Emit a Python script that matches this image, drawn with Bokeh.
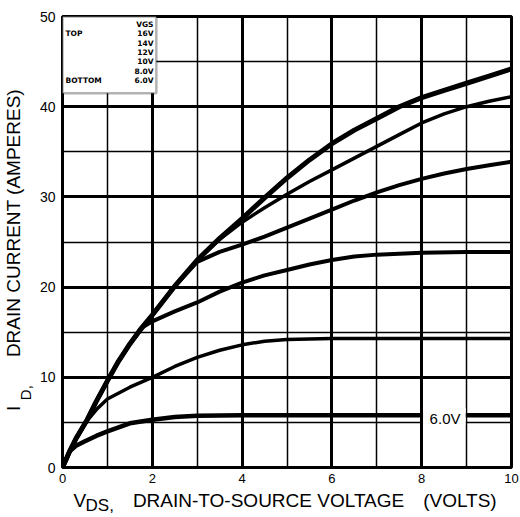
import math
from bokeh.plotting import figure
from bokeh.models import Label, BoxAnnotation, FixedTicker, LinearAxis
from bokeh.embed import file_html
from bokeh.resources import INLINE

# ---------------- data ----------------
vds_16 = [0, 0.15, 0.3, 0.55, 0.75, 1.0, 1.25, 1.5, 1.75, 2.0, 2.5, 3.0, 3.5, 4.0,
          4.5, 5.0, 5.5, 6.0, 6.5, 7.0, 7.5, 8.0, 8.5, 9.0, 9.5, 10.0]
id_16 = [0, 1.7, 3.2, 5.3, 7.3, 9.6, 11.8, 13.7, 15.4, 16.9, 20.1, 23.0, 25.4, 27.6,
         29.9, 32.1, 34.1, 35.9, 37.4, 38.7, 40.0, 41.0, 41.8, 42.6, 43.4, 44.2]

vds_14 = [0, 0.15, 0.3, 0.55, 0.75, 1.0, 1.25, 1.5, 1.75, 2.0, 2.5, 3.0, 3.5, 4.0,
          4.5, 5.0, 5.5, 6.0, 6.5, 7.0, 7.5, 8.0, 8.5, 9.0, 9.5, 10.0]
id_14 = [0, 1.7, 3.2, 5.3, 7.3, 9.6, 11.8, 13.7, 15.4, 16.9, 20.1, 23.0, 25.3, 27.2,
         28.8, 30.3, 31.7, 33.0, 34.3, 35.6, 36.9, 38.2, 39.2, 40.0, 40.6, 41.1]

vds_12 = [0, 0.15, 0.3, 0.55, 0.75, 1.0, 1.25, 1.5, 1.75, 2.0, 2.5, 3.0, 3.5, 4.0,
          4.5, 5.0, 5.5, 6.0, 6.5, 7.0, 7.5, 8.0, 8.5, 9.0, 9.5, 10.0]
id_12 = [0, 1.7, 3.2, 5.3, 7.3, 9.6, 11.8, 13.7, 15.4, 16.9, 20.1, 22.8, 23.9, 24.7,
         25.6, 26.6, 27.6, 28.6, 29.6, 30.5, 31.3, 32.0, 32.6, 33.1, 33.5, 33.9]

vds_10 = [0, 0.15, 0.3, 0.55, 0.75, 1.0, 1.25, 1.5, 1.8, 2.0, 2.5, 3.0, 3.5, 4.0,
          4.5, 5.0, 5.5, 6.0, 6.5, 7.0, 8.0, 9.0, 10.0]
id_10 = [0, 1.7, 3.2, 5.3, 7.3, 9.6, 11.8, 13.7, 15.6, 16.2, 17.3, 18.3, 19.5, 20.5,
         21.3, 21.9, 22.5, 23.0, 23.4, 23.6, 23.8, 23.9, 23.9]

vds_8 = [0, 0.15, 0.3, 0.55, 0.75, 1.0, 1.5, 2.0, 2.5, 3.0, 3.5, 4.0, 4.5, 5.0,
         6.0, 7.0, 8.0, 9.0, 10.0]
id_8 = [0, 1.7, 3.2, 5.2, 6.4, 7.6, 8.9, 10.0, 11.2, 12.2, 13.0, 13.6, 14.0, 14.2,
        14.3, 14.3, 14.3, 14.3, 14.3]

vds_6 = [0, 0.1, 0.16, 0.3, 0.5, 0.75, 1.0, 1.5, 2.0, 2.5, 3.0, 4.0, 5.0, 6.0,
         7.0, 8.0, 9.0, 10.0]
id_6 = [0, 1.1, 1.8, 2.4, 2.9, 3.5, 4.0, 4.9, 5.3, 5.6, 5.75, 5.8, 5.8, 5.8,
        5.8, 5.8, 5.8, 5.8]

x_ticks = [0, 2, 4, 6, 8, 10]
x_minor = [1, 3, 5, 7, 9]
y_ticks = [0, 10, 20, 30, 40, 50]
y_minor = [5, 15, 25, 35, 45]

legend_header = "VGS"
legend_values = ["16V", "14V", "12V", "10V", "8.0V", "6.0V"]
legend_top = "TOP"
legend_bottom = "BOTTOM"
curve_label = "6.0V"

# axis titles (text pieces and where they are centred along each axis)
x_title_main = {0.385: "V", 4.589: "DRAIN-TO-SOURCE VOLTAGE", 8.851: "(VOLTS)"}
x_title_sub = {0.83: "DS,"}
y_title_main = {6.56: "I", 27.1: "DRAIN CURRENT (AMPERES)"}
y_title_sub = {8.3: "D,"}

series = [
    (vds_16, id_16, 5.0),
    (vds_14, id_14, 3.5),
    (vds_12, id_12, 4.0),
    (vds_10, id_10, 4.0),
    (vds_8, id_8, 3.5),
    (vds_6, id_6, 4.5),
]

# ---------------- figure ----------------
FONT = "Liberation Sans"

p = figure(width=520, height=517, x_range=(0, 10), y_range=(0, 50),
           output_backend="svg", toolbar_location=None,
           min_border_left=61, min_border_right=9, min_border_top=16,
           min_border_bottom=48)
p.background_fill_color = "white"
p.border_fill_color = "white"
p.outline_line_color = "black"
p.outline_line_width = 3

xax = p.xaxis[0]
yax = p.yaxis[0]
xax.ticker = FixedTicker(ticks=x_ticks, minor_ticks=x_minor)
yax.ticker = FixedTicker(ticks=y_ticks, minor_ticks=y_minor)


def plain(ax):
    ax.axis_line_color = None
    ax.major_tick_line_color = None
    ax.minor_tick_line_color = None
    ax.major_tick_out = 0
    ax.major_tick_in = 0
    ax.minor_tick_out = 0
    ax.minor_tick_in = 0
    ax.major_label_text_font = FONT
    ax.major_label_text_color = "black"


plain(xax)
plain(yax)
xax.major_label_text_font_size = "13px"
xax.major_label_standoff = 6
yax.major_label_text_font_size = "14px"
yax.major_label_standoff = 7

p.grid.grid_line_color = "black"
p.grid.grid_line_width = 3
p.grid.grid_line_alpha = 1
p.grid.minor_grid_line_color = "black"
p.grid.minor_grid_line_width = 1.5

for xs, ys, w in series:
    p.line(xs, ys, line_color="black", line_width=w,
           line_join="round", line_cap="round")

# inline label on the 6 V curve (white gap)
p.add_layout(BoxAnnotation(left=8.03, right=8.98, bottom=4.75, top=6.6,
                           fill_color="white", fill_alpha=1, line_color=None))
p.add_layout(Label(x=8.52, y=id_6[-1], y_offset=-3, text=curve_label,
                   text_font=FONT, text_font_size="15px", text_color="black",
                   text_align="center", text_baseline="middle"))

# legend box
p.add_layout(BoxAnnotation(left=0, right=2.09, bottom=41.5, top=50,
                           fill_color="white", fill_alpha=1,
                           line_color="black", line_width=2.5))
LFONT = "DejaVu Sans"
LSIZE = "7.5px"
rows = [legend_header] + legend_values
for i, t in enumerate(rows):
    p.add_layout(Label(x=0, y=50, x_offset=91, y_offset=-(8 + 9.3 * i), text=t,
                       text_font=LFONT, text_font_size=LSIZE, text_font_style="bold",
                       text_color="black", text_align="right", text_baseline="middle"))
p.add_layout(Label(x=0, y=50, x_offset=3, y_offset=-(8 + 9.3 * 1), text=legend_top,
                   text_font=LFONT, text_font_size=LSIZE, text_font_style="bold",
                   text_color="black", text_align="left", text_baseline="middle"))
p.add_layout(Label(x=0, y=50, x_offset=3, y_offset=-(8 + 9.3 * 6), text=legend_bottom,
                   text_font=LFONT, text_font_size=LSIZE, text_font_style="bold",
                   text_color="black", text_align="left", text_baseline="middle"))


# axis titles drawn as label-only axes so they sit outside the frame
def title_axis(labels, size, standoff, side, font=FONT):
    ax = LinearAxis(ticker=FixedTicker(ticks=list(labels.keys()), minor_ticks=[]),
                    major_label_overrides=labels)
    plain(ax)
    ax.major_label_text_font = font
    ax.major_label_text_font_size = size
    ax.major_label_standoff = standoff
    if side == "left":
        ax.major_label_orientation = "vertical"
    p.add_layout(ax, side)
    return ax


title_axis(x_title_sub, "17px", 10, "below")
title_axis(x_title_main, "19px", -28, "below")
title_axis(y_title_sub, "15px", 2, "left")
title_axis(y_title_main, "19px", -10, "left")

open("out.html", "w").write(file_html(p, INLINE))
